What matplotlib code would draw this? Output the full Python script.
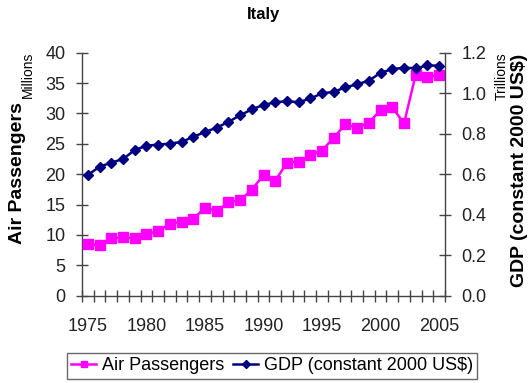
import matplotlib
matplotlib.use("Agg")
import matplotlib.pyplot as plt
from matplotlib.lines import Line2D
import numpy as np

plt.rcParams['font.family'] = ['Liberation Sans', 'DejaVu Sans']

years = list(range(1975, 2006))
air_passengers = [8.45, 8.35, 9.45, 9.6, 9.45, 10.1, 10.65, 11.8, 12.2, 12.6,
                  14.5, 13.9, 15.35, 15.7, 17.45, 19.85, 18.9, 21.9, 22.05, 23.15,
                  23.9, 26.0, 28.25, 27.65, 28.5, 30.55, 31.0, 28.35, 36.4, 36.05, 36.3]
gdp = [0.596, 0.637, 0.657, 0.675, 0.719, 0.741, 0.746, 0.751, 0.759, 0.785,
       0.808, 0.830, 0.858, 0.891, 0.920, 0.942, 0.955, 0.961, 0.955, 0.974,
       0.999, 1.007, 1.029, 1.044, 1.062, 1.101, 1.119, 1.126, 1.123, 1.137, 1.136]
x_labels = ['1975', '1980', '1985', '1990', '1995', '2000', '2005']

W, H = 531, 383
fig = plt.figure(figsize=(W / 100, H / 100), dpi=100)
ax = fig.add_axes([82 / W, 1 - 295.7 / H, (445 - 82) / W, (295.7 - 52.7) / H])
ax2 = ax.twinx()

x = np.arange(len(years))
l1, = ax.plot(x, air_passengers, color='#FF00FF', marker='s', ms=6.5, lw=1.8,
              mec='#FF00FF', zorder=3)
l2, = ax2.plot(x, gdp, color='#000080', marker='D', ms=5.5, lw=1.8, zorder=3)

ax.set_xlim(-0.5, len(years) - 0.5)
ax.set_ylim(0, 40)
ax2.set_ylim(0, 1.2)
ax.set_yticks(np.arange(0, 41, 5))
ax2.set_yticks(np.arange(0, 1.21, 0.2))
ax2.set_yticklabels([f'{v:.1f}' for v in np.arange(0, 1.21, 0.2)])

ax.set_xticks(np.arange(-0.5, len(years), 1.0))
ax.set_xticklabels([])
ax.set_xticks([years.index(int(s)) for s in x_labels], minor=True)
ax.set_xticklabels(x_labels, minor=True)

for a in (ax, ax2):
    a.spines['top'].set_visible(False)
    for s in a.spines.values():
        s.set_color('#444444')
        s.set_linewidth(1.0)
ax.spines['right'].set_visible(False)
ax2.spines['left'].set_visible(False)
ax2.spines['bottom'].set_visible(False)

FS = 13
ax.tick_params(axis='x', which='major', direction='inout', length=9, width=1, color='#444444')
ax.tick_params(axis='x', which='minor', length=0, pad=16, labelsize=FS, labelcolor='#222222')
ax.tick_params(axis='y', direction='inout', length=8, width=1, color='#444444', pad=8,
               labelsize=FS, labelcolor='#222222')
ax2.tick_params(axis='y', direction='inout', length=8, width=1, color='#444444', pad=8,
                labelsize=FS, labelcolor='#222222')

fig.text(263.5 / W, 1 - 15 / H, 'Italy', ha='center', va='center', fontsize=12, fontweight='bold')
fig.text(18 / W, 1 - 244 / H, 'Air Passengers', rotation=90, ha='center', va='bottom',
         fontsize=14, fontweight='bold')
fig.text(28 / W, 1 - 52 / H, 'Millions', rotation=90, ha='center', va='top', fontsize=10)
fig.text(502 / W, 1 - 52 / H, 'Trillions', rotation=90, ha='center', va='top', fontsize=10)
fig.text(520 / W, 1 - 170 / H, 'GDP (constant 2000 US$)', rotation=90, ha='center',
         va='center', fontsize=14, fontweight='bold')

h1 = Line2D([], [], color='#FF00FF', marker='s', ms=5, lw=1.8)
h2 = Line2D([], [], color='#000080', marker='D', ms=4, lw=1.8)
leg = fig.legend([h1, h2], ['Air Passengers', 'GDP (constant 2000 US$)'],
                 loc='center', bbox_to_anchor=(272 / W, 1 - 366 / H), ncol=2,
                 fontsize=FS, frameon=True, fancybox=False, edgecolor='#444444',
                 handlelength=1.4, handletextpad=0.3, columnspacing=0.5,
                 borderpad=0.25, borderaxespad=0)
leg.get_frame().set_linewidth(1.0)

fig.savefig('out.png', dpi=100)
